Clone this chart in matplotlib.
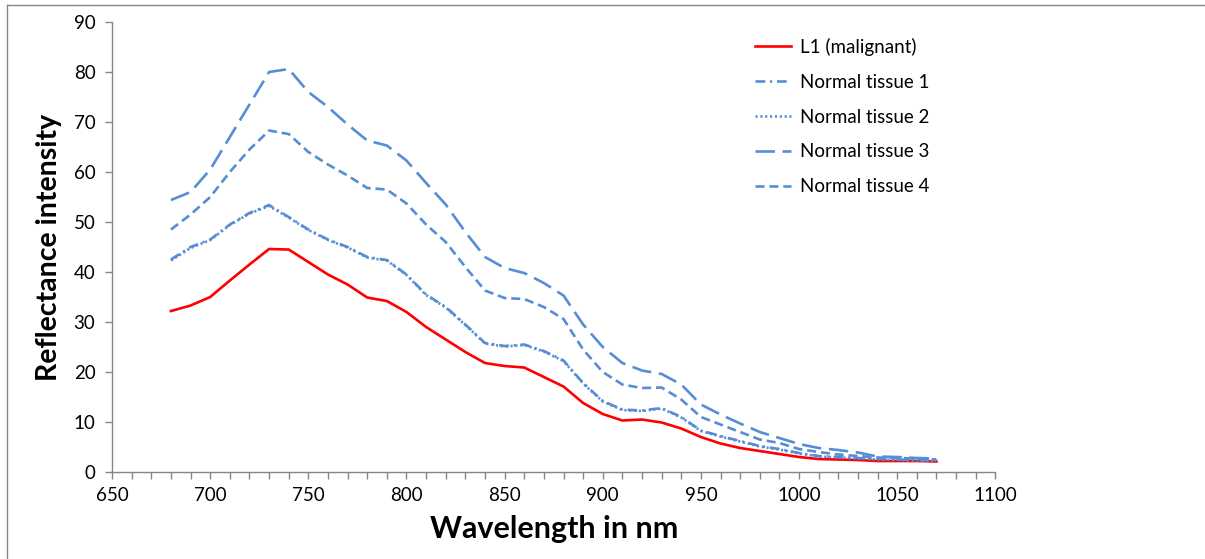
import matplotlib.pyplot as plt
from matplotlib.lines import Line2D

# ------------------------------------------------------------------
# data (reflectance vs wavelength)
# ------------------------------------------------------------------
wavelength = [680, 690, 700, 710, 720, 730, 740, 750, 760, 770,
              780, 790, 800, 810, 820, 830, 840, 850, 860, 870,
              880, 890, 900, 910, 920, 930, 940, 950, 960, 970,
              980, 990, 1000, 1010, 1020, 1030, 1040, 1050, 1060, 1070]

l1_malignant = [32.2, 33.3, 35.0, 38.3, 41.5, 44.6, 44.5, 42.0, 39.5, 37.5,
                34.9, 34.2, 32.0, 29.0, 26.5, 24.0, 21.8, 21.2, 20.9, 19.0,
                17.1, 13.8, 11.6, 10.3, 10.5, 9.9, 8.7, 7.0, 5.7, 4.8,
                4.2, 3.6, 3.0, 2.6, 2.5, 2.4, 2.2, 2.2, 2.2, 2.1]

normal_1 = [42.5, 45.0, 46.5, 49.5, 51.8, 53.4, 51.0, 48.5, 46.5, 45.0,
            43.0, 42.4, 39.5, 35.5, 33.0, 29.5, 25.8, 25.2, 25.5, 24.2,
            22.3, 17.8, 14.2, 12.5, 12.3, 12.8, 11.0, 8.3, 7.2, 6.2,
            5.2, 4.6, 3.8, 3.2, 3.0, 2.8, 2.6, 2.5, 2.4, 2.3]

normal_2 = [42.3, 44.8, 46.4, 49.4, 51.7, 53.2, 50.9, 48.4, 46.4, 44.9,
            42.9, 42.3, 39.4, 35.4, 32.9, 29.4, 25.7, 25.1, 25.4, 24.1,
            22.2, 17.7, 14.1, 12.4, 12.2, 12.7, 10.9, 8.2, 7.1, 6.1,
            5.1, 4.5, 3.7, 3.1, 2.9, 2.7, 2.5, 2.4, 2.3, 2.2]

normal_3 = [54.4, 56.0, 60.5, 67.0, 73.5, 80.0, 80.6, 76.0, 73.0, 69.5,
            66.3, 65.3, 62.3, 57.8, 53.5, 48.0, 43.0, 40.8, 39.8, 37.8,
            35.3, 29.5, 25.0, 21.8, 20.3, 19.6, 17.5, 13.5, 11.5, 9.7,
            8.0, 6.8, 5.6, 4.8, 4.4, 3.9, 3.1, 3.0, 2.8, 2.7]

normal_4 = [48.5, 51.5, 55.0, 60.0, 64.5, 68.3, 67.6, 64.0, 61.5, 59.3,
            56.8, 56.5, 53.7, 49.5, 46.0, 41.0, 36.3, 34.8, 34.6, 33.0,
            30.6, 24.5, 20.0, 17.5, 16.8, 16.9, 14.5, 11.0, 9.5, 8.0,
            6.5, 5.8, 4.6, 4.0, 3.5, 3.2, 2.9, 2.8, 2.7, 2.5]

labels = ["L1 (malignant)", "Normal tissue 1", "Normal tissue 2",
          "Normal tissue 3", "Normal tissue 4"]

# ------------------------------------------------------------------
# styling
# ------------------------------------------------------------------
plt.rcParams['font.family'] = ['Lato', 'DejaVu Sans']
plt.rcParams['lines.scale_dashes'] = False

RED = '#FF0000'
BLUE = '#558ED5'
AXIS_GREY = '#868686'
LW = 1.9

styles = [
    dict(color=RED, linestyle='-'),
    dict(color=BLUE, linestyle=(0, (7, 3.5, 1.5, 3.5))),
    dict(color=BLUE, linestyle=(0, (1.5, 2))),
    dict(color=BLUE, linestyle=(0, (14, 5.5))),
    dict(color=BLUE, linestyle=(0, (6.5, 3.5))),
]
series = [l1_malignant, normal_1, normal_2, normal_3, normal_4]

fig = plt.figure(figsize=(12.05, 5.59), dpi=100)
ax = fig.add_axes([0.093, 0.1556, 0.733, 0.805])

for vals, st, lab in zip(series, styles, labels):
    ax.plot(wavelength, vals, linewidth=LW, label=lab, **st)

ax.set_xlim(650, 1100)
ax.set_ylim(0, 90)
ax.set_xticks(range(650, 1101, 50))
ax.set_xticks(range(650, 1101, 10), minor=True)
ax.set_yticks(range(0, 91, 10))

for side in ('top', 'right'):
    ax.spines[side].set_visible(False)
for side in ('left', 'bottom'):
    ax.spines[side].set_color(AXIS_GREY)
    ax.spines[side].set_linewidth(1.0)

ax.tick_params(axis='x', which='both', direction='out', color=AXIS_GREY,
               length=5, width=1, labelsize=13.5, pad=6)
ax.tick_params(axis='y', which='major', direction='out', color=AXIS_GREY,
               length=5, width=1, labelsize=13.5, pad=7)

ax.set_xlabel("Wavelength in nm", fontsize=22, fontweight='bold', labelpad=8)
ax.set_ylabel("Reflectance intensity", fontsize=20.5, fontweight='bold', labelpad=8)

leg = ax.legend(loc='upper left', bbox_to_anchor=(0.709, 1.002), frameon=False,
                fontsize=13.5, handlelength=1.9, handletextpad=0.5,
                labelspacing=0.95)

# outer chart frame (top and left edges visible in the reference)
fig.add_artist(Line2D([7 / 1205, 1.0], [1 - 5 / 559, 1 - 5 / 559],
                      transform=fig.transFigure, color=AXIS_GREY, linewidth=1))
fig.add_artist(Line2D([7 / 1205, 7 / 1205], [0.0, 1 - 5 / 559],
                      transform=fig.transFigure, color=AXIS_GREY, linewidth=1))

fig.savefig("out.png", dpi=100)
